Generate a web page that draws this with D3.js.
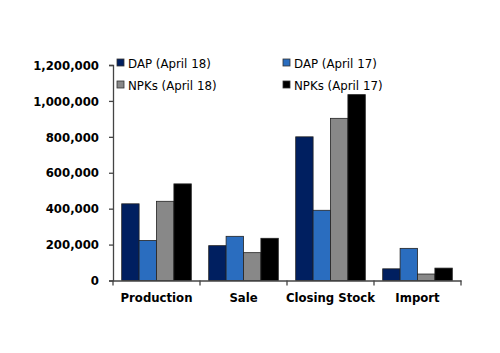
<!DOCTYPE html>
<html>
<head>
<meta charset="utf-8">
<script src="https://cdn.jsdelivr.net/npm/d3@7"></script>
<style>
  body { margin: 0; background: #fff; }
  svg { display: block; }
  text { font-family: "DejaVu Sans", Verdana, sans-serif; }
  .bold-lbl { font-family: "DejaVu Sans Condensed", "DejaVu Sans", sans-serif; }
</style>
</head>
<body>
<svg id="chart" width="500" height="353"></svg>
<script>
const categories = ["Production", "Sale", "Closing Stock", "Import"];
const seriesNames = ["DAP (April 18)", "DAP (April 17)", "NPKs (April 18)", "NPKs (April 17)"];
const dapApr18 = [427000, 194000, 800000, 65000];
const dapApr17 = [223000, 246000, 391000, 179000];
const npkApr18 = [441000, 155000, 903000, 36000];
const npkApr17 = [538000, 235000, 1035000, 69000];
const yTicks = [0, 200000, 400000, 600000, 800000, 1000000, 1200000];
const colors = ["#001f60", "#2a6dbf", "#888888", "#000000"];

const series = [dapApr18, dapApr17, npkApr18, npkApr17];
const rows = categories.map((c, i) => ({
  cat: c,
  vals: series.map((s, j) => ({ key: seriesNames[j], value: s[i], idx: j }))
}));

const svg = d3.select("#chart");
const plotLeft = 113, plotRight = 461, plotTop = 65, plotBottom = 280.5;

const x0 = d3.scaleBand().domain(categories).range([plotLeft, plotRight]).padding(0);
const x1 = d3.scaleBand().domain(seriesNames).range([0, x0.bandwidth()])
  .paddingInner(0).paddingOuter(0.5);
const y = d3.scaleLinear().domain([0, 1200000]).range([plotBottom, plotTop]);

// bars
svg.append("g")
  .selectAll("g")
  .data(rows)
  .enter().append("g")
  .attr("transform", d => `translate(${x0(d.cat)},0)`)
  .selectAll("rect")
  .data(d => d.vals)
  .enter().append("rect")
  .attr("x", d => x1(d.key))
  .attr("y", d => y(d.value))
  .attr("width", x1.bandwidth())
  .attr("height", d => plotBottom - y(d.value))
  .attr("fill", d => colors[d.idx])
  .attr("stroke", "#222")
  .attr("stroke-width", 0.8);

// y axis
const yAxis = svg.append("g")
  .attr("transform", `translate(${plotLeft},0)`)
  .call(d3.axisLeft(y).tickValues(yTicks).tickSize(4).tickPadding(10)
    .tickFormat(d3.format(",")));
yAxis.select(".domain").attr("stroke", "#444").attr("stroke-width", 1.3);
yAxis.selectAll(".tick line").attr("stroke", "#444").attr("stroke-width", 1.3);
yAxis.selectAll("text")
  .attr("class", "bold-lbl")
  .attr("font-size", "13px").attr("font-weight", "bold").attr("fill", "#000");

// x axis
const xAxis = svg.append("g")
  .attr("transform", `translate(0,${plotBottom})`)
  .call(d3.axisBottom(x0).tickSize(0).tickPadding(12));
xAxis.select(".domain").attr("stroke", "#444").attr("stroke-width", 1.5);
xAxis.selectAll("text")
  .attr("class", "bold-lbl")
  .attr("font-size", "13px").attr("font-weight", "bold").attr("fill", "#000");
// category boundary ticks
xAxis.selectAll("line.sep")
  .data(categories.map(c => x0(c)).concat([plotRight]))
  .enter().append("line")
  .attr("class", "sep")
  .attr("x1", d => d).attr("x2", d => d)
  .attr("y1", 0).attr("y2", 5)
  .attr("stroke", "#444").attr("stroke-width", 1.3);

// legend
const legend = svg.append("g");
const lg = legend.selectAll("g")
  .data(seriesNames)
  .enter().append("g")
  .attr("transform", (d, i) => `translate(${i % 2 === 0 ? 117 : 283},${i < 2 ? 59 : 81})`);
lg.append("rect")
  .attr("width", 7).attr("height", 7)
  .attr("fill", (d, i) => colors[i])
  .attr("stroke", "#333").attr("stroke-width", 0.8);
lg.append("text")
  .attr("x", 11).attr("y", 8.5)
  .attr("font-size", "11.8px")
  .attr("fill", "#000")
  .text(d => d);
</script>
</body>
</html>
